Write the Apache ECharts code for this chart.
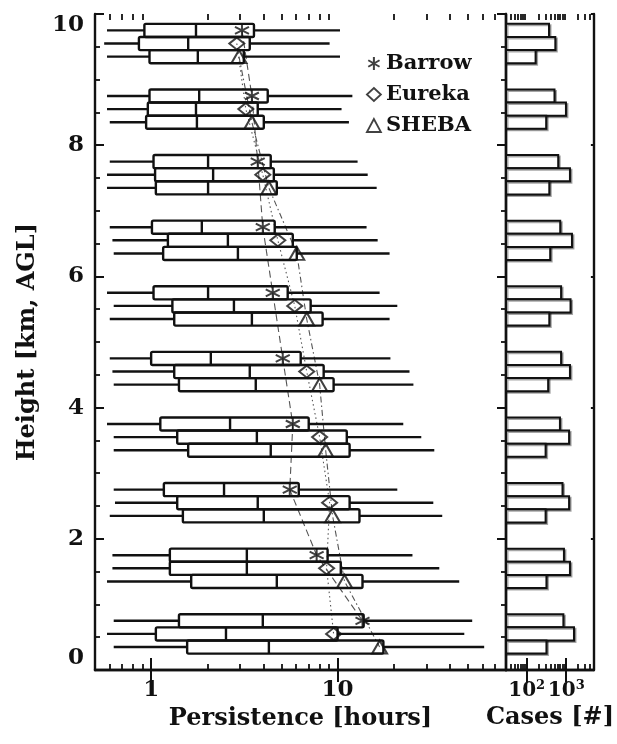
<!DOCTYPE html>
<html><head><meta charset="utf-8">
<script src="https://cdn.jsdelivr.net/npm/echarts@6/dist/echarts.min.js"></script>
<style>html,body{margin:0;padding:0;background:#fff}#c{width:617px;height:744px}</style>
</head><body><div id="c"></div>
<script>
// Height bins (km AGL), top to bottom
const heights = [9.5, 8.5, 7.5, 6.5, 5.5, 4.5, 3.5, 2.5, 1.5, 0.5];

// Persistence box stats [whisker low, Q1, median, Q3, whisker high] (hours)
const barrowBox = [
  [0.58, 0.92, 1.74, 3.56, 10.3],
  [0.58, 0.98, 1.81, 4.22, 12.0],
  [0.60, 1.03, 2.02, 4.38, 12.8],
  [0.60, 1.01, 1.87, 4.60, 14.3],
  [0.58, 1.03, 2.02, 5.40, 16.8],
  [0.60, 1.00, 2.09, 6.34, 19.2],
  [0.58, 1.12, 2.65, 7.00, 22.5],
  [0.63, 1.17, 2.46, 6.19, 20.9],
  [0.62, 1.26, 3.26, 8.84, 25.2],
  [0.63, 1.41, 3.97, 13.8, 52.7]
];
const eurekaBox = [
  [0.56, 0.86, 1.58, 3.38, 9.06],
  [0.58, 0.96, 1.74, 3.73, 10.5],
  [0.58, 1.05, 2.15, 4.55, 14.5],
  [0.62, 1.23, 2.58, 5.75, 16.4],
  [0.63, 1.30, 2.78, 7.17, 20.9],
  [0.62, 1.33, 3.38, 8.42, 24.3],
  [0.63, 1.38, 3.69, 11.2, 28.1],
  [0.64, 1.38, 3.73, 11.6, 32.6],
  [0.62, 1.26, 3.26, 10.4, 35.1],
  [0.58, 1.06, 2.52, 10.0, 47.8]
];
const shebaBox = [
  [0.58, 0.98, 1.78, 3.14, 10.3],
  [0.60, 0.94, 1.76, 4.02, 11.5],
  [0.58, 1.06, 2.02, 4.72, 16.2],
  [0.63, 1.16, 2.92, 6.04, 19.0],
  [0.60, 1.33, 3.47, 8.31, 19.0],
  [0.63, 1.41, 3.64, 9.52, 25.5],
  [0.63, 1.58, 4.38, 11.6, 33.0],
  [0.60, 1.48, 4.02, 13.1, 36.4],
  [0.58, 1.64, 4.72, 13.6, 44.9],
  [0.63, 1.56, 4.28, 17.6, 61.1]
];

// Mean persistence (hours)
const barrowMean = [3.07, 3.47, 3.73, 3.97, 4.49, 5.08, 5.75, 5.54, 7.72, 13.6];
const eurekaMean = [2.88, 3.22, 3.97, 4.78, 5.89, 6.83, 8.01, 9.06, 8.73, 9.52];
const shebaMean  = [2.96, 3.47, 4.28, 6.04, 6.83, 8.01, 8.63, 9.40, 10.9, 16.8];

// Number of cases
const barrowCases = [367, 505, 627, 705, 741, 741, 693, 805, 875, 847];
const eurekaCases = [530, 984, 1242, 1396, 1285, 1242, 1180, 1180, 1242, 1570];
const shebaCases  = [168, 311, 373, 393, 373, 349, 301, 301, 316, 316];

// Axes ticks
const persistenceTicks = [1, 10];
const persistenceTickLabels = ['1', '10'];
const persistenceMinorTicks = [0.6, 0.7, 0.8, 0.9, 2, 3, 4, 5, 6, 7, 8, 9, 20, 30, 40, 50, 60, 70, 80];
const casesTicks = [100, 1000];
const casesTickLabels = ['{b|10}{s|2}', '{b|10}{s|3}'];
const casesMinorTicks = [40, 50, 60, 70, 80, 90, 200, 300, 400, 500, 600, 700, 800, 900, 2000, 3000, 4000, 5000];
const heightTicksMin = 0, heightTicksMax = 10, heightTickStep = 2;

// ---- layout / style constants ----
const FONT = 'DejaVu Serif';
const INK = '#111';
const LW = 2.4;
const BOX_H = 0.2;
const OFFSETS = { Barrow: 0.25, Eureka: 0.05, SHEBA: -0.15 };
const P_MIN = 0.5, P_MAX = 80, C_MIN = 30, C_MAX = 5000;
const STAR = 'path://M10,0L10,20M1.34,5L18.66,15M1.34,15L18.66,5';

const stations = [
  { name: 'Barrow', box: barrowBox, mean: barrowMean, cases: barrowCases, symbol: STAR, size: [14, 14], dash: [7, 4] },
  { name: 'Eureka', box: eurekaBox, mean: eurekaMean, cases: eurekaCases, symbol: 'diamond', size: [15, 12], dash: [1.5, 3] },
  { name: 'SHEBA', box: shebaBox, mean: shebaMean, cases: shebaCases, symbol: 'triangle', size: [15, 13], dash: [6, 3, 1.5, 3] }
];

function boxRender(params, api) {
  const y = api.value(0);
  const p = [1, 2, 3, 4, 5].map(k => api.coord([api.value(k), y]));
  const top = api.coord([1, y + BOX_H / 2])[1];
  const bot = api.coord([1, y - BOX_H / 2])[1];
  const yc = p[0][1];
  const st = { stroke: INK, lineWidth: LW, fill: null, lineJoin: 'round', lineCap: 'butt' };
  return {
    type: 'group', children: [
      { type: 'line', shape: { x1: p[0][0], y1: yc, x2: p[1][0], y2: yc }, style: st },
      { type: 'rect', shape: { x: p[1][0], y: top, width: p[3][0] - p[1][0], height: bot - top, r: 1.5 }, style: Object.assign({}, st, { fill: 'none' }) },
      { type: 'line', shape: { x1: p[2][0], y1: top, x2: p[2][0], y2: bot }, style: st },
      { type: 'line', shape: { x1: p[3][0], y1: yc, x2: p[4][0], y2: yc }, style: st }
    ]
  };
}

function barRender(params, api) {
  const y = api.value(0), v = api.value(1);
  const a = api.coord([C_MIN, y + BOX_H / 2]);
  const b = api.coord([v, y - BOX_H / 2]);
  return {
    type: 'rect',
    shape: { x: a[0], y: a[1], width: b[0] - a[0], height: b[1] - a[1] },
    style: { fill: '#fff', stroke: INK, lineWidth: 2, shadowColor: 'rgba(0,0,0,0.35)', shadowOffsetX: 1.5, shadowOffsetY: 1.5, shadowBlur: 0 }
  };
}

const series = [];
stations.forEach(s => {
  const off = OFFSETS[s.name];
  series.push({
    type: 'custom', name: s.name + ' box', xAxisIndex: 0, yAxisIndex: 0,
    renderItem: boxRender, encode: { x: [1, 2, 3, 4, 5], y: 0 }, z: 3,
    data: heights.map((h, i) => [h + off].concat(s.box[i]))
  });
});
stations.forEach(s => {
  const off = OFFSETS[s.name];
  series.push({
    type: 'line', name: s.name + ' line', xAxisIndex: 0, yAxisIndex: 0,
    symbol: 'none', z: 2, silent: true,
    lineStyle: { color: '#555', width: 1.1, type: s.dash },
    data: heights.map((h, i) => [s.mean[i], h + off])
  });
});
stations.forEach(s => {
  const off = OFFSETS[s.name];
  series.push({
    type: 'scatter', name: s.name, xAxisIndex: 0, yAxisIndex: 0,
    symbol: s.symbol, symbolSize: s.size, z: 5,
    itemStyle: { color: 'rgba(0,0,0,0)', borderColor: INK, borderWidth: 2 },
    data: heights.map((h, i) => [s.mean[i], h + off])
  });
  series.push({
    type: 'custom', name: s.name + ' cases', xAxisIndex: 4, yAxisIndex: 2,
    renderItem: barRender, encode: { x: 1, y: 0 }, z: 3,
    data: heights.map((h, i) => [h + off, s.cases[i]])
  });
});

const lab = { fontFamily: FONT, fontSize: 23, fontWeight: 'bold', color: INK };
const nameStyle = { fontFamily: FONT, fontSize: 24, fontWeight: 'bold', color: INK };

function xAx(grid, pos, min, max, opts) {
  return Object.assign({
    type: 'log', logBase: 10, gridIndex: grid, position: pos, min: min, max: max,
    splitLine: { show: false }, axisLabel: { show: false }, axisTick: { show: false },
    axisLine: { show: false }
  }, opts);
}

const option = {
  animation: false,
  backgroundColor: '#fff',
  grid: [
    { left: 95, top: 14, width: 411, height: 656 },
    { left: 506, top: 14, width: 102, height: 656 }
  ],
  legend: {
    orient: 'vertical', left: 361, top: 48, itemWidth: 14, itemHeight: 13, itemGap: 10,
    textStyle: { fontFamily: FONT, fontSize: 21, fontWeight: 'bold', color: INK },
    data: [
      { name: 'Barrow', icon: STAR, itemStyle: { color: 'rgba(0,0,0,0)', borderColor: INK, borderWidth: 2 } },
      { name: 'Eureka', icon: 'diamond', itemStyle: { color: 'rgba(0,0,0,0)', borderColor: INK, borderWidth: 1.8 } },
      { name: 'SHEBA', icon: 'triangle', itemStyle: { color: 'rgba(0,0,0,0)', borderColor: INK, borderWidth: 1.8 } }
    ]
  },
  xAxis: [
    xAx(0, 'bottom', P_MIN, P_MAX, {
      axisLine: { show: true, lineStyle: { color: INK, width: 2.4 } },
      axisTick: { show: true, inside: true, length: 12, lineStyle: { color: INK, width: 2 }, customValues: persistenceTicks },
      axisLabel: { show: true, margin: 9, customValues: persistenceTicks, textStyle: lab, hideOverlap: false, showMinLabel: true, showMaxLabel: true,
        formatter: v => { const i = persistenceTicks.findIndex(t => Math.abs(t - v) / t < 1e-6); return i < 0 ? '' : persistenceTickLabels[i]; } },
      name: 'Persistence [hours]', nameLocation: 'middle', nameGap: 34, nameTextStyle: nameStyle
    }),
    xAx(0, 'top', P_MIN, P_MAX, {
      axisLine: { show: true, lineStyle: { color: INK, width: 2.4 } },
      axisTick: { show: true, inside: true, length: 12, lineStyle: { color: INK, width: 2 }, customValues: persistenceTicks }
    }),
    xAx(0, 'bottom', P_MIN, P_MAX, {
      axisTick: { show: true, inside: true, length: 6, lineStyle: { color: INK, width: 1.8 }, customValues: persistenceMinorTicks }
    }),
    xAx(0, 'top', P_MIN, P_MAX, {
      axisTick: { show: true, inside: true, length: 6, lineStyle: { color: INK, width: 1.8 }, customValues: persistenceMinorTicks }
    }),
    xAx(1, 'bottom', C_MIN, C_MAX, {
      axisLine: { show: true, lineStyle: { color: INK, width: 2.4 } },
      axisTick: { show: true, inside: true, length: 12, lineStyle: { color: INK, width: 2 }, customValues: casesTicks },
      axisLabel: { show: true, margin: 9, customValues: casesTicks, hideOverlap: false, showMinLabel: true, showMaxLabel: true,
        rich: { b: { fontFamily: FONT, fontSize: 20, fontWeight: 'bold', color: INK, lineHeight: 24 }, s: { fontFamily: FONT, fontSize: 13, fontWeight: 'bold', color: INK, verticalAlign: 'top', lineHeight: 13 } },
        formatter: v => { const i = casesTicks.findIndex(t => Math.abs(t - v) / t < 1e-6); return i < 0 ? '' : casesTickLabels[i]; } },
      name: 'Cases [#]', nameLocation: 'middle', nameGap: 34, nameTextStyle: nameStyle
    }),
    xAx(1, 'top', C_MIN, C_MAX, {
      axisLine: { show: true, lineStyle: { color: INK, width: 2.4 } },
      axisTick: { show: true, inside: true, length: 12, lineStyle: { color: INK, width: 2 }, customValues: casesTicks }
    }),
    xAx(1, 'bottom', C_MIN, C_MAX, {
      axisTick: { show: true, inside: true, length: 6, lineStyle: { color: INK, width: 1.8 }, customValues: casesMinorTicks }
    }),
    xAx(1, 'top', C_MIN, C_MAX, {
      axisTick: { show: true, inside: true, length: 6, lineStyle: { color: INK, width: 1.8 }, customValues: casesMinorTicks }
    })
  ],
  yAxis: [
    {
      type: 'value', gridIndex: 0, position: 'left', min: heightTicksMin, max: heightTicksMax, interval: heightTickStep,
      splitLine: { show: false },
      axisLine: { show: true, lineStyle: { color: INK, width: 2.4 } },
      axisTick: { show: true, inside: true, length: 9, lineStyle: { color: INK, width: 2 } },
      minorTick: { show: true, splitNumber: 4, length: 5, lineStyle: { color: INK, width: 1.8 } },
      axisLabel: Object.assign({ margin: 11, verticalAlignMinLabel: 'bottom', verticalAlignMaxLabel: 'top' }, lab),
      name: 'Height [km, AGL]', nameLocation: 'middle', nameGap: 55, nameRotate: 90, nameTextStyle: nameStyle
    },
    {
      type: 'value', gridIndex: 0, position: 'right', min: heightTicksMin, max: heightTicksMax, interval: heightTickStep,
      splitLine: { show: false },
      axisLine: { show: true, lineStyle: { color: INK, width: 2.4 } },
      axisTick: { show: true, inside: true, length: 9, lineStyle: { color: INK, width: 2 } },
      minorTick: { show: true, splitNumber: 4, length: 5, lineStyle: { color: INK, width: 1.8 } },
      axisLabel: { show: false }
    },
    {
      type: 'value', gridIndex: 1, position: 'left', min: heightTicksMin, max: heightTicksMax, interval: heightTickStep,
      splitLine: { show: false }, axisLine: { show: true, lineStyle: { color: INK, width: 2.4 } },
      axisTick: { show: false }, axisLabel: { show: false }
    },
    {
      type: 'value', gridIndex: 1, position: 'right', min: heightTicksMin, max: heightTicksMax, interval: heightTickStep,
      splitLine: { show: false }, axisLine: { show: true, lineStyle: { color: INK, width: 2.4 } },
      axisTick: { show: true, inside: true, length: 3, lineStyle: { color: INK, width: 2 } }, axisLabel: { show: false }
    }
  ],
  series: series
};

const chart = echarts.init(document.getElementById('c'), null, { renderer: 'canvas' });
chart.setOption(option);
</script>
</body></html>
